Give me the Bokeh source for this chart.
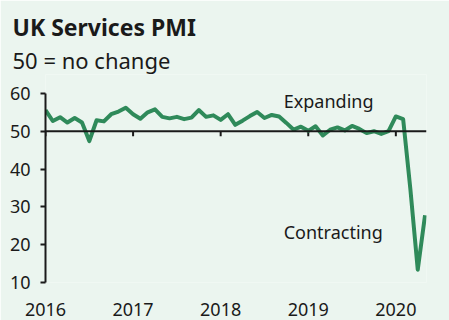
from bokeh.plotting import figure
from bokeh.models import Title, Span, Label, FixedTicker, Range1d
from bokeh.embed import file_html
from bokeh.resources import INLINE

# Monthly UK services PMI, Jan 2016 - May 2020
pmi_2016 = [55.6, 52.7, 53.7, 52.3, 53.5, 52.3, 47.4, 52.9, 52.6, 54.5, 55.2, 56.2]
pmi_2017 = [54.5, 53.3, 55.0, 55.8, 53.8, 53.4, 53.8, 53.2, 53.6, 55.6, 53.8, 54.2]
pmi_2018 = [53.0, 54.5, 51.7, 52.8, 54.0, 55.1, 53.5, 54.3, 53.9, 52.2, 50.4, 51.2]
pmi_2019 = [50.1, 51.3, 48.9, 50.4, 51.0, 50.2, 51.4, 50.6, 49.5, 50.0, 49.3, 50.0]
pmi_2020 = [53.9, 53.2, 34.5, 13.4, 27.8]
start_year = 2016
year_ticks = [2016, 2017, 2018, 2019, 2020]
y_ticks = [10, 20, 30, 40, 50, 60]
y_axis_bounds = (10, 60)
no_change = 50
title_text = "UK Services PMI"
subtitle_text = "50 = no change"
label_expanding = ("Expanding", 2018.72, 57.9)
label_contracting = ("Contracting", 2018.72, 23.4)

pmi = pmi_2016 + pmi_2017 + pmi_2018 + pmi_2019 + pmi_2020
months = [start_year + i / 12 for i in range(len(pmi))]

FONT = "Noto Sans"
BG = "#ebf5ef"
GREEN = "#2f8a5a"
INK = "#1a1a1a"

p = figure(width=449, height=320, output_backend="svg", toolbar_location=None,
           x_range=Range1d(2016, 2020.35), y_range=Range1d(10, 65.0),
           min_border_left=45, min_border_right=23, min_border_bottom=38, min_border_top=74)
p.background_fill_color = BG
p.border_fill_color = BG
p.outline_line_color = None
p.grid.visible = False

# subtitle (next to the plot area)
p.add_layout(Title(text=subtitle_text, text_font=FONT, text_font_size="22px",
                   text_font_style="normal", text_color=INK, offset=-33, standoff=0), "above")
# main title (outermost)
p.title.text = title_text
p.title.text_font = FONT
p.title.text_font_size = "23px"
p.title.text_font_style = "bold"
p.title.text_color = INK
p.title.offset = -33
p.title.standoff = 0

# y axis
ya = p.yaxis[0]
ya.ticker = FixedTicker(ticks=y_ticks)
ya.bounds = y_axis_bounds
ya.axis_line_width = 2
ya.axis_line_color = INK
ya.major_tick_line_width = 2
ya.major_tick_line_color = INK
ya.major_tick_in = 0
ya.major_tick_out = 5
ya.minor_tick_line_color = None
ya.major_label_standoff = 10
ya.major_label_text_font = FONT
ya.major_label_text_font_size = "18px"
ya.major_label_text_color = INK

# x axis (labels only; line drawn at 50)
xa = p.xaxis[0]
xa.ticker = FixedTicker(ticks=year_ticks)
xa.axis_line_color = None
xa.major_tick_line_color = None
xa.minor_tick_line_color = None
xa.major_label_standoff = 14
xa.major_label_text_font = FONT
xa.major_label_text_font_size = "18px"
xa.major_label_text_color = INK

p.add_layout(Span(location=no_change, dimension="width", line_color=INK, line_width=2))
p.segment(x0=year_ticks, y0=[no_change] * len(year_ticks), x1=year_ticks,
          y1=[no_change - 1.3] * len(year_ticks), line_color=INK, line_width=2)

p.line(months, pmi, line_color=GREEN, line_width=4, line_join="round")

for txt, lx, ly in (label_expanding, label_contracting):
    p.add_layout(Label(x=lx, y=ly, text=txt, text_font=FONT, text_font_size="18px",
                       text_color=INK, text_baseline="alphabetic"))

open("out.html", "w").write(file_html(p, INLINE))
